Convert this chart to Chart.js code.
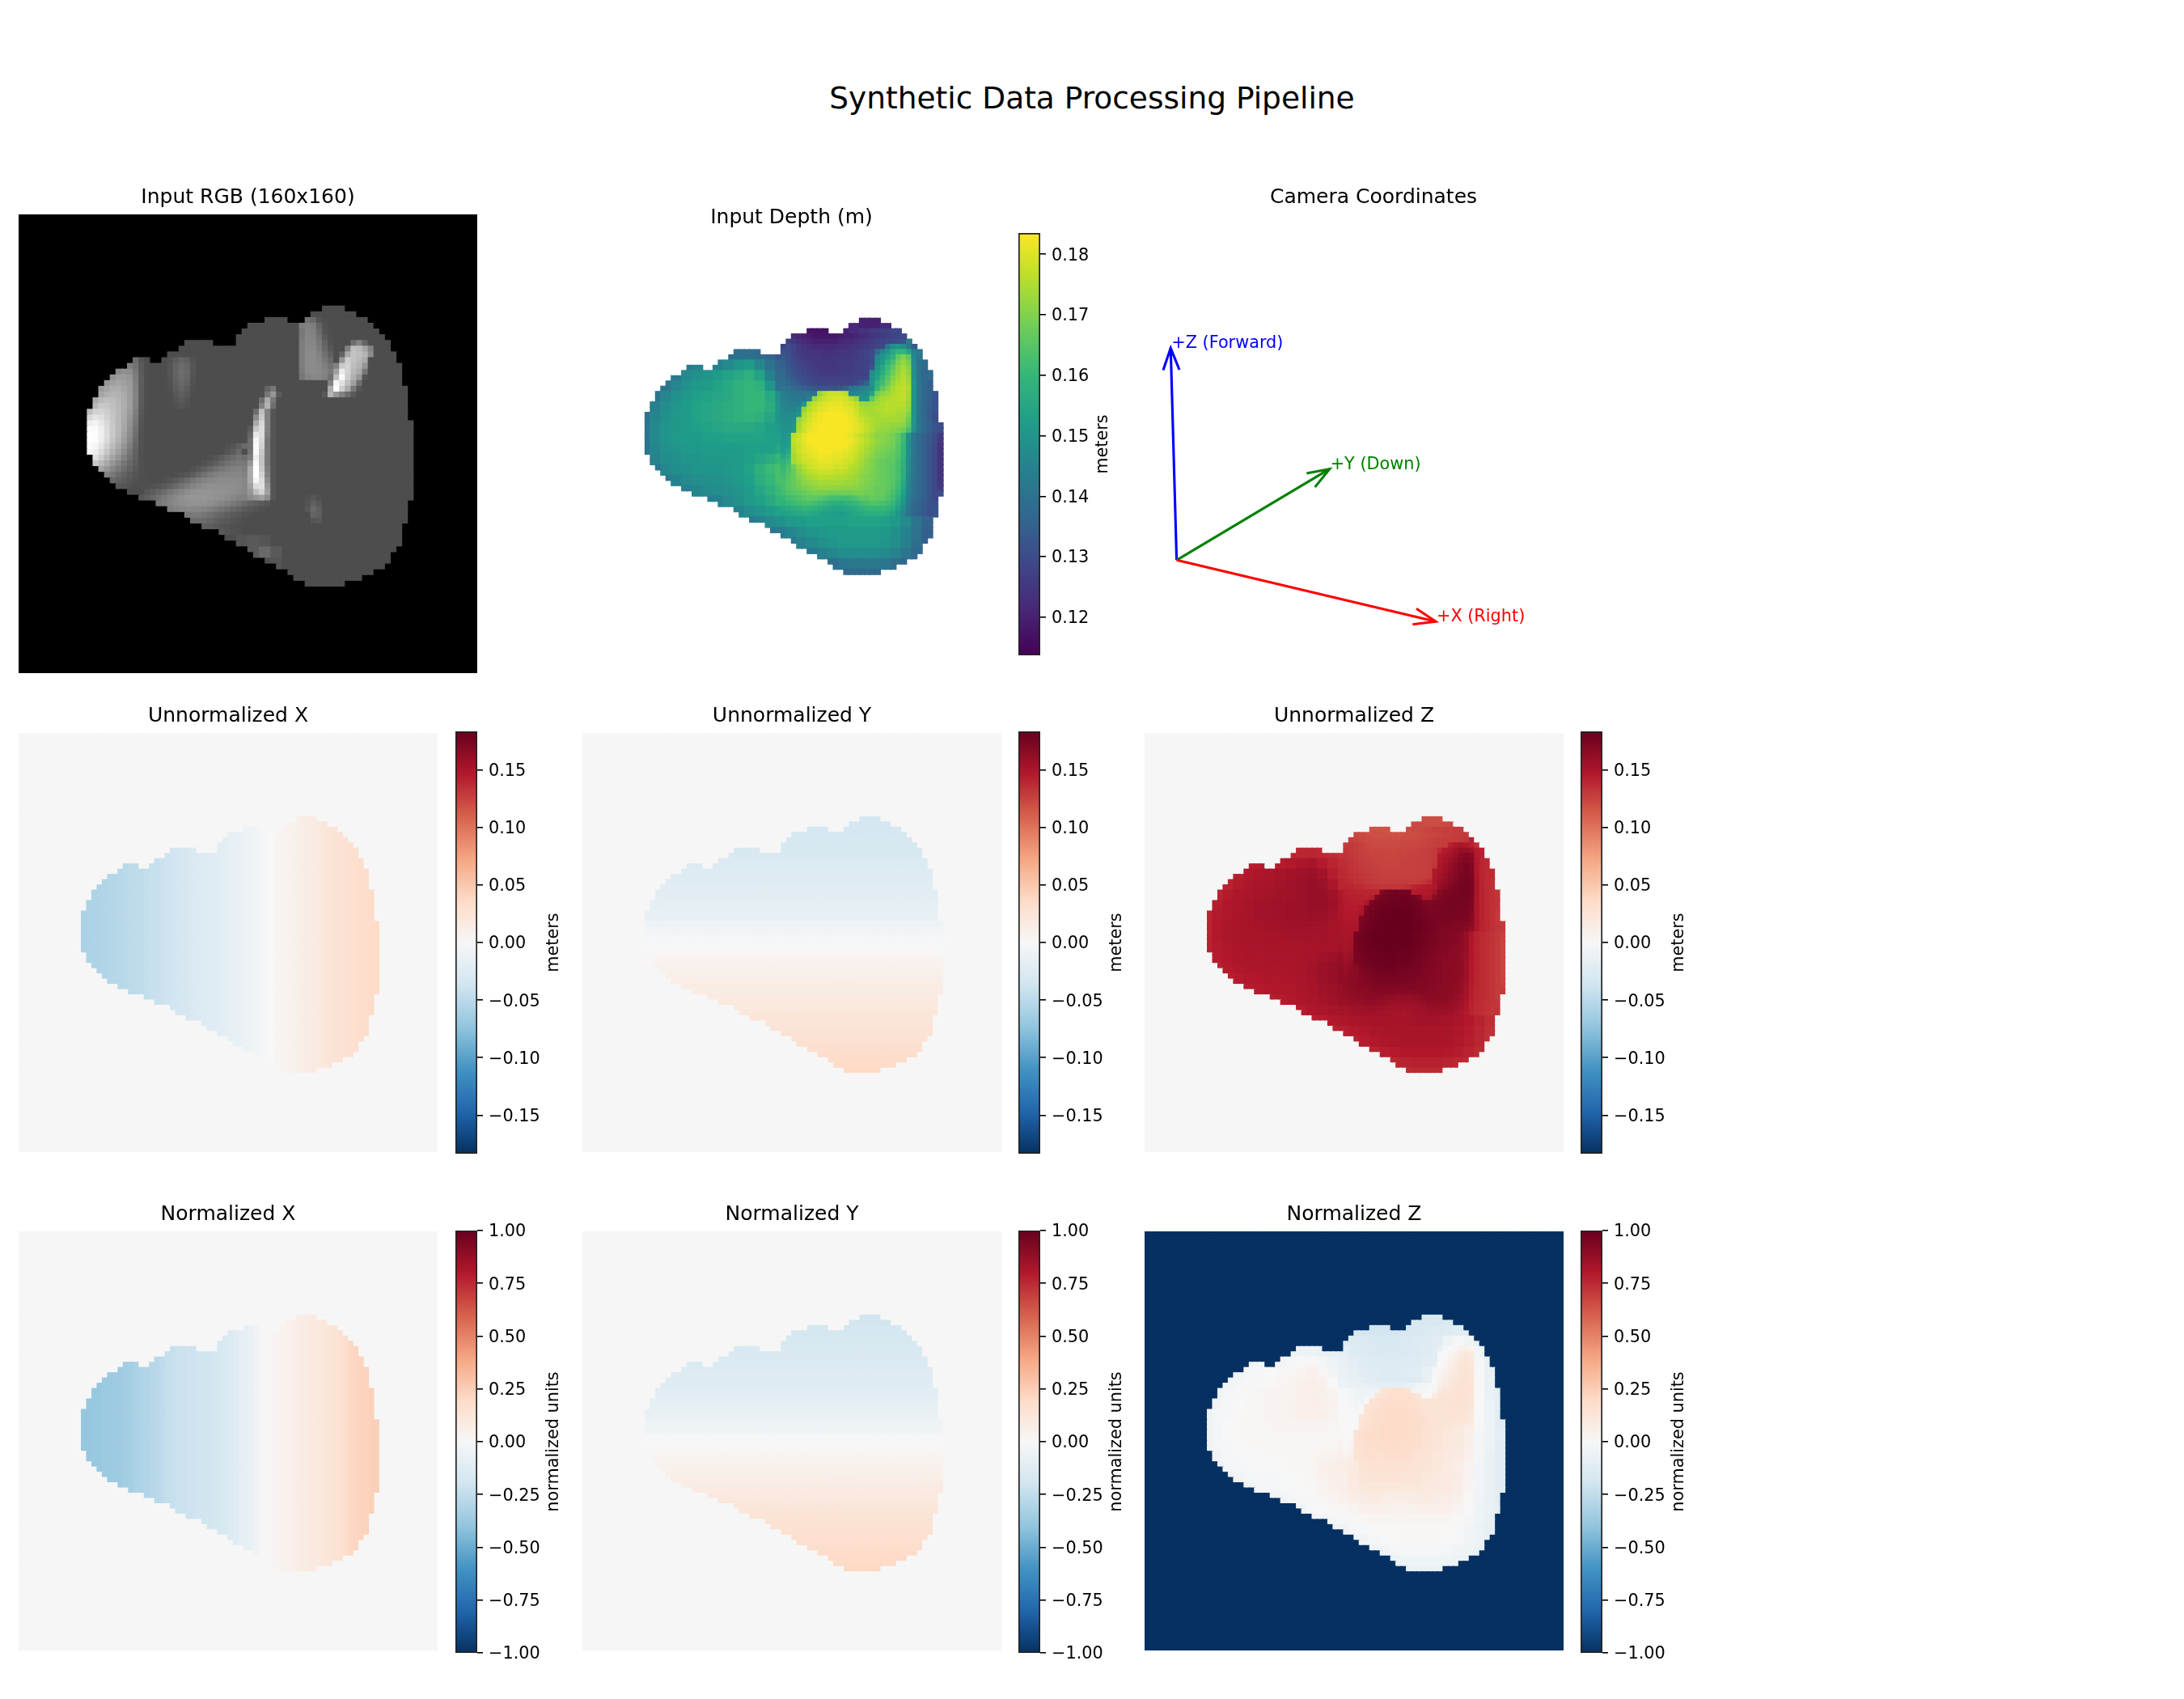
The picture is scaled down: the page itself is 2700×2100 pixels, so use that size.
<!DOCTYPE html>
<html>
<head>
<meta charset="utf-8">
<title>Synthetic Data Processing Pipeline</title>
<script src="https://cdn.jsdelivr.net/npm/chart.js@4/dist/chart.umd.min.js"></script>
<style>
  body { margin: 0; background: #fff; }
  #page { position: relative; width: 2700px; height: 2100px; overflow: hidden; }
  #page canvas { position: absolute; }
  #mainTitle { position: absolute; left: 0; width: 2700px; top: 101px; text-align: center;
    font: 37.5px/40px "DejaVu Sans"; color: #000; }
</style>
</head>
<body>
<div id="page"><div id="mainTitle">Synthetic Data Processing Pipeline</div></div>
<script>
// Object outline on the 80x80 image grid: row -> [firstCol, lastCol, ...]
const maskRowStart = 16;
const maskSpans = [
  [53,56],[51,58],[43,46,50,60],[40,61],[39,62],[38,63],[29,33,38,64],[28,64],[26,65],[20,22,25,65],
  [19,66],[17,66],[16,66],[15,66],[14,67],[14,67],[13,67],[13,67],[12,67],[12,67],
  [12,68],[12,68],[12,68],[12,68],[12,68],[12,68],[13,68],[13,68],[14,68],[15,68],
  [16,68],[17,68],[19,68],[21,68],[24,67],[26,67],[29,67],[30,67],[32,66],[35,66],
  [36,66],[38,66],[40,65],[41,64],[43,64],[45,63],[47,61],[48,59],[50,56]
];

// Depth in mm, 2x2 image cells each. Rows 8..32, columns 5..34 of the 40x40 grid
const depthRows = [
  [0,0,0,0,0, 0,0,0,0,0, 0,0,0,0,0, 0,0,0,0,0, 122,120,120,122,124, 0,0,0,0,0],
  [0,0,0,0,0, 0,0,0,0,0, 0,0,0,0,122, 118,117,117,118,120, 122,124,126,127,129, 130,0,0,0,0],
  [0,0,0,0,0, 0,0,0,0,0, 0,0,0,128,125, 124,122,121,122,123, 125,128,130,142,148, 142,134,0,0,0],
  [0,0,0,0,0, 0,0,0,139,139, 139,138,136,132,128, 126,124,123,123,124, 125,127,150,156,162, 158,142,0,0,0],
  [0,0,0,0,143, 145,143,145,147,150, 152,146,140,136,132, 129,127,126,126,127, 128,130,160,168,174, 172,148,138,0,0],
  [0,0,0,143,147, 149,150,152,154,156, 158,154,144,138,134, 131,129,128,128,129, 130,136,164,171,176, 175,150,138,0,0],
  [0,0,141,146,149, 151,152,154,156,158, 160,158,150,140,138, 137,137,137,138,142, 146,150,168,173,176, 176,150,138,134,0],
  [0,141,146,149,151, 153,154,155,156,158, 160,160,156,148,146, 148,176,180,181,180, 177,172,174,175,176, 172,150,138,132,0],
  [0,144,148,150,152, 154,155,156,157,158, 160,160,157,150,147, 175,179,182,183,182, 180,177,176,176,174, 170,150,140,132,0],
  [140,146,149,151,152, 154,155,156,157,158, 159,158,155,150,150, 176,180,182,183,182, 181,178,176,174,172, 166,150,140,130,0],
  [141,147,150,151,152, 153,154,155,156,156, 156,155,153,152,152, 178,181,183,183,183, 181,178,175,172,170, 162,148,140,130,0],
  [141,147,150,151,152, 152,153,153,154,154, 154,154,153,153,156, 178,181,183,183,183, 181,177,173,170,167, 160,147,140,132,124],
  [141,146,149,150,151, 151,152,152,152,152, 153,153,153,155,158, 178,180,182,183,182, 180,176,172,169,167, 160,147,139,131,122],
  [0,145,148,149,150, 150,151,151,151,152, 153,155,157,160,164, 176,178,180,180,179, 177,174,170,167,165, 158,146,138,130,122],
  [0,141,146,148,149, 150,150,150,151,152, 154,158,161,163,166, 174,176,176,177,176, 174,172,169,166,163, 156,145,138,130,122],
  [0,0,142,145,147, 148,149,149,150,151, 153,157,160,163,167, 172,174,174,174,173, 172,170,168,166,164, 156,145,138,131,123],
  [0,0,0,0,144, 146,147,148,149,150, 152,155,158,161,165, 169,170,170,169,169, 169,168,167,165,162, 154,144,137,130,123],
  [0,0,0,0,0, 0,143,145,147,149, 151,153,156,159,162, 164,165,163,162,163, 164,165,164,162,160, 152,143,137,131,0],
  [0,0,0,0,0, 0,0,0,142,145, 148,150,152,154,156, 158,158,158,157,157, 158,159,159,158,156, 150,142,137,132,0],
  [0,0,0,0,0, 0,0,0,0,0, 142,144,147,149,151, 152,153,153,153,153, 154,154,154,153,151, 147,141,136,0,0],
  [0,0,0,0,0, 0,0,0,0,0, 0,0,141,143,146, 148,150,151,152,152, 152,152,152,151,149, 145,140,135,0,0],
  [0,0,0,0,0, 0,0,0,0,0, 0,0,0,0,142, 145,147,149,150,151, 151,151,151,150,148, 144,139,135,0,0],
  [0,0,0,0,0, 0,0,0,0,0, 0,0,0,0,0, 0,141,144,146,148, 148,148,148,147,145, 141,137,0,0,0],
  [0,0,0,0,0, 0,0,0,0,0, 0,0,0,0,0, 0,0,0,139,141, 142,142,142,141,139, 137,0,0,0,0],
  [0,0,0,0,0, 0,0,0,0,0, 0,0,0,0,0, 0,0,0,0,137, 138,138,138,137,0, 0,0,0,0,0]
];

// Depth in mm at full 80x80 detail around the dome and the right lobe: [row, firstCol, values...]
const depthFine = [
  [19,39,124,122,121,120,119,118,118,118,118,118,119,120,120,121,122,123,124,125,126,127,128,129],
  [20,39,127,125,123,122,121,120,120,120,120,120,121,122,122,123,124,125,126,127,128,129,129,130,131],
  [21,39,130,128,126,124,123,122,122,122,122,122,123,123,124,124,125,126,127,128,129,142,148,150,148,142],
  [22,38,132,130,128,126,125,124,124,124,123,123,124,124,125,125,126,127,128,129,138,146,150,156,160,160,155,145],
  [23,38,134,131,129,127,126,125,125,125,124,124,125,125,125,126,126,127,128,130,146,150,154,158,166,170,166,146],
  [24,38,135,132,130,128,127,126,125,125,125,125,125,126,126,126,127,127,128,130,148,152,158,163,169,172,169,147,140],
  [25,38,136,133,131,129,128,127,126,125,125,125,125,126,126,126,127,127,128,132,150,155,161,166,171,174,171,148,140],
  [26,38,137,134,132,130,129,128,127,126,126,126,126,126,126,127,127,127,128,148,152,157,163,168,172,175,172,148,140,137],
  [27,38,138,135,133,131,130,129,128,127,127,127,127,127,127,127,128,128,129,149,154,160,165,170,173,176,173,149,141,137],
  [28,38,139,137,135,133,131,130,129,128,128,128,128,128,128,128,129,132,136,150,158,162,167,172,175,176,174,150,141,137,135],
  [29,38,141,140,138,137,135,134,133,132,132,132,132,133,135,140,142,144,146,148,160,166,170,174,176,177,175,150,141,137,135],
  [30,38,143,142,141,140,140,140,140,172,176,178,178,178,176,145,146,147,148,155,168,171,173,175,176,177,174,150,141,137,135],
  [31,38,144,143,142,142,141,145,172,176,178,179,180,180,179,176,172,150,150,166,172,174,175,176,176,177,174,150,141,137,135],
  [32,38,145,144,144,143,150,174,177,179,180,181,181,181,180,179,177,173,172,173,174,175,176,176,176,176,173,150,141,137,135],
  [33,38,146,145,145,148,172,176,178,180,181,182,182,182,181,180,178,175,174,174,175,175,176,176,175,175,172,150,141,137,134],
  [34,38,147,147,147,150,175,178,180,182,183,183,183,183,182,181,179,176,175,174,174,175,175,175,174,174,170,150,141,137,134],
  [35,38,148,148,148,172,176,179,181,182,183,183,183,183,183,182,180,178,176,175,174,174,174,174,174,173,168,150,141,137,134],
  [36,38,149,149,150,174,178,180,182,183,183,183,183,183,183,182,181,179,177,175,174,173,173,172,172,171,166,150,141,138,135,132],
  [37,38,150,150,151,175,178,181,182,183,183,183,183,183,183,182,181,179,177,175,173,172,172,171,170,168,163,149,141,138,135,132],
  [38,38,150,151,176,178,181,183,183,183,183,183,183,183,182,181,179,177,175,173,171,171,170,169,166,161,149,141,138,135,133,130,126],
  [39,38,151,152,177,179,181,183,183,183,183,183,183,183,183,182,180,178,176,174,172,171,170,169,166,161,149,141,138,135,133,130,125],
  [40,38,152,153,176,178,180,182,183,183,183,183,183,183,183,181,179,177,175,173,171,170,169,168,165,160,148,141,138,135,132,129,124],
  [41,38,153,155,175,178,180,181,182,183,183,183,182,182,181,180,178,176,174,172,170,169,168,167,165,160,148,141,138,135,132,129,124],
  [42,38,155,158,174,177,179,180,181,182,182,182,181,181,180,179,177,175,173,171,169,168,167,166,164,159,148,141,138,135,132,129,124],
  [43,38,158,161,174,176,178,179,180,181,181,181,180,180,179,178,176,174,172,170,168,167,166,166,163,158,147,141,138,135,132,129,124],
  [44,38,160,163,168,173,176,178,179,180,180,180,179,179,178,176,175,173,171,170,168,167,166,165,163,158,147,141,138,135,132,129,124],
  [45,38,161,164,167,171,174,176,177,178,178,178,177,177,176,175,174,172,171,169,168,167,166,165,163,157,147,141,138,135,132,129,124],
  [46,38,162,165,167,170,172,174,175,176,176,176,175,175,175,174,173,171,170,169,168,167,166,165,163,157,146,140,138,135,132,129,124],
  [47,38,163,165,167,169,171,172,173,174,174,174,174,174,173,173,172,171,170,169,168,167,166,165,162,156,146,140,138,135,132,129,125],
  [48,38,163,165,166,168,169,170,171,172,172,172,172,171,171,171,171,170,169,168,167,167,166,164,161,155,145,140,137,135,132,129,126],
  [49,38,162,164,165,166,167,168,169,169,169,168,168,168,168,168,169,169,168,168,167,167,165,163,160,153,144,139,137,135,132,129],
  [50,38,160,162,163,164,165,166,166,165,164,163,162,162,162,163,164,166,166,167,166,166,164,162,158,152,143,139,137,135,132,129],
  [51,38,158,160,161,162,163,163,162,161,160,158,157,157,158,159,160,162,163,164,164,163,162,160,156,150,142,138,136,134,132],
  [52,38,155,156,157,158,159,159,158,157,156,155,154,154,155,156,157,158,160,160,160,160,159,157,153,148,141,137,136,134,131],
  [53,38,153,154,155,156,156,156,155,154,153,153,152,152,153,154,155,156,157,157,157,157,156,154,150,146,140,137,135,133,131]
];

// Normalized Z in hundredths, same grid as depthRows
const normZRows = [
  [0,0,0,0,0, 0,0,0,0,0, 0,0,0,0,0, 0,0,0,0,0, -16,-17,-17,-16,-15, 0,0,0,0,0],
  [0,0,0,0,0, 0,0,0,0,0, 0,0,0,0,-16, -18,-19,-19,-18,-17, -16,-15,-14,-13,-12, -11,0,0,0,0],
  [0,0,0,0,0, 0,0,0,0,0, 0,0,0,-13,-14, -15,-16,-16,-16,-15, -14,-13,-11,-5,-1, -5,-9,0,0,0],
  [0,0,0,0,0, 0,0,0,-6,-6, -6,-7,-8,-10,-13, -14,-15,-15,-15,-15, -14,-13,0,3,7, 5,-5,0,0,0],
  [0,0,0,0,-4, -3,-4,-3,-2,0, 1,-2,-6,-8,-10, -12,-13,-14,-14,-13, -13,-11,6,10,14, 13,-1,-7,0,0],
  [0,0,0,-4,-2, -1,0,1,2,3, 5,2,-3,-7,-9, -11,-12,-13,-13,-12, -11,-8,8,12,15, 14,0,-7,0,0],
  [0,0,-5,-2,-1, 1,1,2,3,5, 6,5,0,-6,-7, -7,-7,-7,-7,-5, -2,0,10,13,15, 15,0,-7,-9,0],
  [0,-5,-2,-1,1, 2,2,3,3,5, 6,6,3,-1,-2, -1,15,17,18,17, 15,13,14,14,15, 13,0,-7,-10,0],
  [0,-3,-1,0,1, 2,3,3,4,5, 6,6,4,0,-2, 14,17,18,19,18, 17,15,15,15,14, 11,0,-6,-10,0],
  [-6,-2,-1,1,1, 2,3,3,4,5, 5,5,3,0,0, 15,17,18,19,18, 18,16,15,14,13, 9,0,-6,-11,0],
  [-5,-2,0,1,1, 2,2,3,3,3, 3,3,2,1,1, 16,18,19,19,19, 18,16,14,13,11, 7,-1,-6,-11,0],
  [-5,-2,0,1,1, 1,2,2,2,2, 2,2,2,2,3, 16,18,19,19,19, 18,15,13,11,10, 6,-2,-6,-10,-15],
  [-5,-2,-1,0,1, 1,1,1,1,1, 2,2,2,3,5, 16,17,18,19,18, 17,15,13,11,10, 6,-2,-6,-11,-16],
  [0,-3,-1,-1,0, 0,1,1,1,1, 2,3,4,6,8, 15,16,17,17,17, 15,14,11,10,9, 5,-2,-7,-11,-16],
  [0,-5,-2,-1,-1, 0,0,0,1,1, 2,5,6,7,9, 14,15,15,15,15, 14,13,11,9,7, 3,-3,-7,-11,-16],
  [0,0,-5,-3,-2, -1,-1,-1,0,1, 2,4,6,7,10, 13,14,14,14,13, 13,11,10,9,8, 3,-3,-7,-11,-15],
  [0,0,0,0,-3, -2,-2,-1,-1,0, 1,3,5,6,9, 11,11,11,11,11, 11,10,10,9,7, 2,-3,-7,-11,-15],
  [0,0,0,0,0, 0,-4,-3,-2,-1, 1,2,3,5,7, 8,9,7,7,7, 8,9,8,7,6, 1,-4,-7,-11,0],
  [0,0,0,0,0, 0,0,0,-5,-3, -1,0,1,2,3, 5,5,5,4,4, 5,5,5,5,3, 0,-5,-7,-10,0],
  [0,0,0,0,0, 0,0,0,0,0, -5,-3,-2,-1,1, 1,2,2,2,2, 2,2,2,2,1, -2,-5,-8,0,0],
  [0,0,0,0,0, 0,0,0,0,0, 0,0,-5,-4,-2, -1,0,1,1,1, 1,1,1,1,-1, -3,-6,-9,0,0],
  [0,0,0,0,0, 0,0,0,0,0, 0,0,0,0,-5, -3,-2,-1,0,1, 1,1,1,0,-1, -3,-6,-8,0,0],
  [0,0,0,0,0, 0,0,0,0,0, 0,0,0,0,0, 0,-5,-3,-2,-1, -1,-1,-1,-2,-3, -5,-7,0,0,0],
  [0,0,0,0,0, 0,0,0,0,0, 0,0,0,0,0, 0,0,0,-6,-5, -5,-5,-5,-5,-6, -7,0,0,0,0],
  [0,0,0,0,0, 0,0,0,0,0, 0,0,0,0,0, 0,0,0,0,-7, -7,-7,-7,-7,0, 0,0,0,0,0]
];

// Normalized Z at 80x80 detail on the dome edge and the right lobe
const normZFine = [
  [22,55,-12,-7,-2,0,3,6,6,3,-3],[23,55,-11,-2,0,2,5,9,11,9,-2],[24,55,-11,-1,1,5,7,11,13,11,-2],
  [25,55,-10,0,3,6,9,12,14,12,-1],[26,55,-1,1,4,7,10,13,14,13,-1],[27,55,-1,2,6,9,11,13,15,13,-1],
  [28,40,-8,-9,-11,-11,-12,-13,-13,-13,-13,-13,-13,-13,-12,-10,-8,0,5,7,10,13,14,15,14],
  [29,40,-7,-7,-8,-9,-10,-10,-10,-10,-10,-10,-8,-6,-5,-3,-2,-1,6,9,11,14,15,15,14],
  [30,40,-5,-6,-6,-6,-6,13,15,16,16,16,15,-3,-2,-2,-1,3,10,12,13,14,15,15,14],
  [31,40,-5,-5,-5,-3,13,15,16,17,17,17,17,15,13,0,0,9,13,14,14,15,15,15,14],
  [32,40,-3,-4,0,14,15,17,17,18,18,18,17,17,15,13,13,13,14,14,15,15,15,15,13],
  [33,40,-3,-1,13,15,16,17,18,18,18,18,18,17,16,14,14,14,14,14,15,15,14,14,13],
  [34,40,-2,0,14,16,17,18,19,19,19,19,18,18,17,15,14,14,14,14,14,14,14,14,11],
  [35,40,-1,13,15,17,18,18,19,19,19,19,19,18,17,16,15,14,14,14,14,14,14,13,10],
  [36,40,0,14,16,17,18,19,19,19,19,19,19,18,18,17,15,14,14,13,13,13,13,12,9],
  [37,38,0,0,1,14,16,18],[38,38,0,1,15,16,18,19],[39,38,1,1,15,17,18,19],[40,38,1,2,15,16,17,18],
  [41,38,2,3,14,16,17,18],[42,38,3,5,14,15,17,17],[43,38,5,6,14,15,16,17]
];

// Per column (12..68) and per row (16..64) readings
const xColStart = 12;
const unnormXmm = [-58,-58,-57,-56,-55,-54,-53,-52,-50,-49,-48,-47,-45,-43,-42,-40,-38,-36,-34,-32,-30,-28,-26,-25,-23,-22,-21,-19,-17,-15,-13,-11,-9,-7,-4,-2,0,2,5,7,9,11,13,14,16,19,22,24,26,27,29,30,31,33,34,35,36];
const normXpct = [-39,-39,-38,-38,-37,-37,-36,-36,-35,-34,-32,-31,-30,-29,-28,-26,-24,-23,-22,-22,-21,-21,-20,-20,-19,-18,-17,-16,-14,-12,-10,-9,-7,-4,-1,1,2,3,4,5,6,7,8,9,10,11,12,13,14,16,18,21,22,23,23,24,24];
const unnormYmm = [-33,-33,-32,-32,-31,-30,-30,-29,-27,-26,-25,-24,-22,-21,-20,-19,-18,-17,-15,-14,-10,-7,-5,-2,0,1,4,5,8,9,10,13,14,15,17,18,19,22,23,24,26,27,28,30,32,33,35,36,37];
const normYpct = [-19,-19,-18,-18,-17,-17,-16,-16,-15,-15,-14,-13,-13,-12,-11,-11,-10,-9,-8,-7,-5,-4,-3,-1,0,1,2,3,4,5,6,7,8,9,10,11,12,13,14,15,15,16,17,17,18,19,20,20,21];

// RGB panel: flat gray with brighter patches
const rgbBase = 77;
// [row40, col40, gray, gray, ...]
const rgbPatches = [
  [23,7,95,90,85,85],[28,19,85,90,85],[29,20,90,105,90],[30,22,85]
];
// [row80, col80, gray, gray, ...] for the lobe, the band and the sharp streaks
const rgbFine = [
  [25,20,110,85,77],[26,19,125,115,90,78],[27,17,135,145,140,120,90,78],[28,16,145,155,155,150,125,92,78],
  [29,15,150,160,165,160,155,128,92,78],[30,14,155,165,172,172,165,155,130,92,78],[31,14,165,175,180,178,170,158,132,92,78],
  [32,13,170,185,190,188,182,172,158,132,92,78],[33,13,185,200,198,192,184,174,158,130,90,78],
  [34,12,190,210,212,205,195,185,172,155,126,88,77],[35,12,215,228,222,210,198,185,170,150,122,86,77],
  [36,12,238,242,232,216,200,185,168,146,118,84,77],[37,12,250,250,238,220,202,185,166,142,114,84,77],
  [38,12,255,254,240,220,200,182,162,138,110,82,77],[39,12,255,252,238,217,196,178,158,133,106,82,77],
  [40,12,250,246,230,210,188,170,150,126,102,82,77],[41,12,245,238,220,198,178,160,140,118,98,80,77],
  [42,13,225,205,185,165,148,130,112,95,80,77],[43,13,200,185,168,150,134,118,104,92,80,77],
  [44,14,165,150,135,122,110,98,88,80,77],[45,15,130,120,108,98,90,84,80,78,77],[46,16,105,98,92,86,82,79,78,77],
  [47,17,88,85,82,80,80,80,82],
  [25,26,82,92,100,95,82],[26,26,85,98,108,102,85],[27,26,85,100,110,105,85],[28,26,84,98,108,102,84],
  [29,26,82,95,104,98,82],[30,26,80,92,100,92,80],[31,26,78,88,95,88,78],[32,26,77,84,90,84,77],[33,26,77,80,85,80,77],
  [49,50,80,86,80],[50,50,84,96,88],[51,50,88,105,95],[52,51,100,95],[53,51,85,88],
  [40,36,80,85,95,105],[41,36,85,92,105],[42,33,80,85,92,100,108,115],[43,31,78,82,88,95,105,112,118,122],
  [44,29,78,82,88,95,104,113,120,125,128,130],[45,27,78,82,87,94,104,114,122,128,132,134,135,135],
  [46,25,80,84,90,98,108,118,126,132,136,138,140,140,140,138],
  [47,24,84,90,97,106,115,124,132,138,142,144,144,144,144,142,140],
  [48,22,86,92,100,108,118,126,134,140,145,147,148,148,147,146,144,142,138],
  [49,21,88,94,102,112,122,130,138,144,148,150,150,150,148,146,144,140,136,130],
  [50,24,118,126,132,138,142,145,146,146,145,142,138,134,128,122,114,108,100,95,90,85],
  [51,26,125,130,134,136,136,135,132,128,122,116,110,104,98,92,88,84,80],
  [52,29,120,122,122,118,112,106,100,95,90,86,82,80],[53,30,108,108,106,102,96,92,88,84,80,78],
  [54,32,96,94,90,86,82,80,78],[55,35,88,85,82,80],
  [18,49,110,115,105,85,78,77],[19,49,125,130,125,100,82,78],[20,49,120,132,130,108,85,78],[21,49,122,135,132,115,90,80],
  [22,49,125,135,135,120,98,82],[23,49,125,138,138,125,105,88],[24,49,125,140,140,130,112,95],[25,49,125,140,140,135,120,105],
  [26,49,125,140,140,138,128,115],[27,49,122,138,140,138,132,120],[28,49,118,132,135,135,130,120],
  [30,43,100,120],[31,43,120,150,90],[32,42,110,170,120],[33,42,130,180,110],[34,41,110,190,130,85],
  [35,41,140,200,130,85],[36,41,170,215,130,85],[37,40,90,200,220,130,85],[38,40,100,230,220,125,85],
  [39,40,110,245,215,120,85],[40,40,110,250,210,120,85],[41,40,115,250,200,120,85],[42,39,110,125,240,195,120,85],
  [43,39,120,150,250,195,120,85],[44,39,125,170,255,200,125,85],[45,39,130,170,255,210,130,85],
  [46,39,135,170,245,220,140,85],[47,39,135,160,220,225,150,85],[48,39,135,150,190,210,160,85],[49,39,130,140,150,160,140,85],
  [22,58,110,130,100],[23,57,130,190,185,165,130],[24,56,100,170,195,190,180,140],[25,56,150,205,195,185,170],
  [26,55,130,200,210,190,180,150],[27,55,160,235,210,185,170,120],[28,54,110,190,250,205,175,150,85],
  [29,54,130,245,225,190,160,110],[30,54,170,255,205,170,120,85],[31,53,90,180,150,130,110,90]
];

// Colorbar ticks
const depthTicks = [0.12, 0.13, 0.14, 0.15, 0.16, 0.17, 0.18];
const meterTicks = [-0.15, -0.10, -0.05, 0, 0.05, 0.10, 0.15];
const normTicks = [-1, -0.75, -0.5, -0.25, 0, 0.25, 0.5, 0.75, 1];

// Camera axes, in axes fractions
const axisOrigin = [0.070, 0.245];
const axisNames = ['+X (Right)', '+Y (Down)', '+Z (Forward)'];
const axisColors = ['red', 'green', 'blue'];
const axisTipX = [0.636, 0.404, 0.057];
const axisTipY = [0.111, 0.444, 0.708];

const viridisStops = ['#440154','#482878','#3e4989','#31688e','#26828e','#1f9e89','#35b779','#6ece58','#b5de2b','#fde725'];
const rdbuStops = ['#053061','#2166ac','#4393c3','#92c5de','#d1e5f0','#f7f7f7','#fddbc7','#f4a582','#d6604d','#b2182b','#67001f'];

Chart.defaults.font.family = '"DejaVu Sans"';
Chart.defaults.color = '#000';
Chart.defaults.animation = false;

const page = document.getElementById('page');

function hexToRgb(hex) {
  return [1, 3, 5].map(i => parseInt(hex.substr(i, 2), 16));
}

function mapColor(stops, t) {
  t = Math.min(1, Math.max(0, t)) * (stops.length - 1);
  const i = Math.min(stops.length - 2, Math.floor(t));
  const a = hexToRgb(stops[i]);
  const b = hexToRgb(stops[i + 1]);
  const c = a.map((v, k) => Math.round(v + (b[k] - v) * (t - i)));
  return `rgb(${c[0]},${c[1]},${c[2]})`;
}

function addCanvas(left, top, width, height) {
  const canvas = document.createElement('canvas');
  canvas.width = width;
  canvas.height = height;
  canvas.style.left = left + 'px';
  canvas.style.top = top + 'px';
  canvas.style.width = width + 'px';
  canvas.style.height = height + 'px';
  page.appendChild(canvas);
  return canvas;
}

function inMask(row, col) {
  const spans = maskSpans[row - maskRowStart];
  if (!spans) return false;
  for (let k = 0; k < spans.length; k += 2) {
    if (col >= spans[k] && col <= spans[k + 1]) return true;
  }
  return false;
}

function coarse(rows, row, col) {
  return rows[(row >> 1) - 8][((col - 1) >> 1) - 5];
}

// Lookups for the [row, col, values...] lists
function indexRuns(list) {
  const table = {};
  list.forEach(p => p.slice(2).forEach((v, k) => { table[p[0] + ':' + (p[1] + k)] = v; }));
  return table;
}
const rgbCoarse = indexRuns(rgbPatches);
const rgbDetail = indexRuns(rgbFine);
const depthDetail = indexRuns(depthFine);
const normZDetail = indexRuns(normZFine);

function rgbValue(row, col) {
  const fine = rgbDetail[row + ':' + col];
  if (fine !== undefined) return fine;
  const patch = rgbCoarse[(row >> 1) + ':' + (col >> 1)];
  return patch !== undefined ? patch : rgbBase;
}

function depthValue(row, col) {
  const fine = depthDetail[row + ':' + col];
  return fine !== undefined ? fine : coarse(depthRows, row, col);
}

function normZValue(row, col) {
  const fine = normZDetail[row + ':' + col];
  return fine !== undefined ? fine : coarse(normZRows, row, col);
}

const titleOptions = text => ({
  display: true,
  text: text,
  font: { size: 25, weight: 'normal', lineHeight: 1.2 },
  color: '#000',
  padding: { top: 0, bottom: 6 },
});

const hiddenScales = {
  x: { type: 'linear', display: false, min: 0, max: 80 },
  y: { type: 'linear', display: false, min: 0, max: 80, reverse: true },
};

function drawImagePanel(p) {
  const points = [];
  const colors = [];
  for (let row = 0; row < 80; row++) {
    for (let col = 0; col < 80; col++) {
      const inside = inMask(row, col);
      if (!inside && p.background === null) continue;
      points.push({ x: col + 0.5, y: row + 0.5 });
      colors.push(inside ? p.color(row, col) : p.background);
    }
  }
  const cell = p.size / 80;
  new Chart(addCanvas(p.left, p.top - 36, p.size, p.size + 36), {
    type: 'scatter',
    data: {
      datasets: [{
        data: points,
        pointStyle: 'rect',
        pointRadius: (cell + 1.4) / Math.SQRT2,
        pointBorderWidth: 0,
        pointBackgroundColor: colors,
      }],
    },
    options: {
      responsive: false,
      devicePixelRatio: 1,
      events: [],
      layout: { padding: 0, autoPadding: false },
      scales: hiddenScales,
      plugins: { legend: { display: false }, tooltip: { enabled: false }, title: titleOptions(p.title) },
    },
  });
}

// Rotated label next to a colorbar
const barLabelPlugin = {
  id: 'barLabel',
  afterDraw(chart, args, opts) {
    const { ctx, chartArea } = chart;
    ctx.save();
    ctx.translate(chartArea.left + opts.offset, (chartArea.top + chartArea.bottom) / 2);
    ctx.rotate(-Math.PI / 2);
    ctx.font = '20.8px "DejaVu Sans"';
    ctx.fillStyle = '#000';
    ctx.textAlign = 'center';
    ctx.textBaseline = 'middle';
    ctx.fillText(opts.text, 0, 0);
    ctx.restore();
  },
};

function drawColorbar(b) {
  const canvasWidth = 190;
  const barWidth = 27;
  // has to stay above half a tick label plus the tick padding, or the scale shrinks
  const margin = 24;
  new Chart(addCanvas(b.left, b.top - margin, canvasWidth, b.height + 2 * margin), {
    type: 'bar',
    data: {
      labels: [''],
      datasets: [{
        data: [[b.min, b.max]],
        barPercentage: 1,
        categoryPercentage: 1,
        borderWidth: 2,
        borderColor: '#222',
        borderSkipped: false,
        backgroundColor(ctx) {
          const area = ctx.chart.chartArea;
          if (!area) return 'transparent';
          const grad = ctx.chart.ctx.createLinearGradient(0, area.bottom, 0, area.top);
          for (let i = 0; i <= 50; i++) grad.addColorStop(i / 50, mapColor(b.stops, i / 50));
          return grad;
        },
      }],
    },
    options: {
      responsive: false,
      devicePixelRatio: 1,
      events: [],
      layout: { padding: { top: margin, bottom: margin, left: 0, right: 0 }, autoPadding: false },
      scales: {
        x: { display: false },
        y: {
          position: 'right',
          min: b.min,
          max: b.max,
          afterBuildTicks(scale) { scale.ticks = b.ticks.map(v => ({ value: v })); },
          afterFit(scale) { scale.width = canvasWidth - barWidth; },
          grid: { drawOnChartArea: false, drawTicks: true, tickLength: 7, color: '#000', lineWidth: 1.6 },
          border: { display: false },
          ticks: {
            autoSkip: false,
            padding: 7,
            labelOffset: 2,
            font: { size: 20.8 },
            color: '#000',
            callback: v => v.toFixed(2).replace('-', '\u2212'),
          },
        },
      },
      plugins: {
        legend: { display: false },
        tooltip: { enabled: false },
        barLabel: { text: b.label, offset: b.labelOffset },
      },
    },
    plugins: [barLabelPlugin],
  });
}

// Open arrow heads and the labels at the tips
const arrowPlugin = {
  id: 'axisArrows',
  afterDatasetsDraw(chart) {
    const { ctx, scales } = chart;
    chart.data.datasets.forEach((ds, i) => {
      const a = ds.data[0];
      const b = ds.data[1];
      const ax = scales.x.getPixelForValue(a.x);
      const ay = scales.y.getPixelForValue(a.y);
      const bx = scales.x.getPixelForValue(b.x);
      const by = scales.y.getPixelForValue(b.y);
      const len = Math.hypot(bx - ax, by - ay);
      const ux = (bx - ax) / len;
      const uy = (by - ay) / len;
      ctx.save();
      ctx.strokeStyle = ds.borderColor;
      ctx.lineWidth = 3.1;
      ctx.beginPath();
      ctx.moveTo(bx - ux * 27 - uy * 10, by - uy * 27 + ux * 10);
      ctx.lineTo(bx, by);
      ctx.lineTo(bx - ux * 27 + uy * 10, by - uy * 27 - ux * 10);
      ctx.stroke();
      ctx.fillStyle = ds.borderColor;
      ctx.font = '20.8px "DejaVu Sans"';
      ctx.textAlign = 'left';
      ctx.textBaseline = 'alphabetic';
      ctx.fillText(axisNames[i], bx + 1, by);
      ctx.restore();
    });
  },
};

function drawCameraPanel() {
  new Chart(addCanvas(1415, 265 - 36, 566, 566 + 36), {
    type: 'scatter',
    data: {
      datasets: axisNames.map((name, i) => ({
        label: name,
        data: [{ x: axisOrigin[0], y: axisOrigin[1] }, { x: axisTipX[i], y: axisTipY[i] }],
        showLine: true,
        borderColor: axisColors[i],
        borderWidth: 3.1,
        pointRadius: 0,
      })),
    },
    options: {
      responsive: false,
      devicePixelRatio: 1,
      events: [],
      layout: { autoPadding: false },
      scales: {
        x: { type: 'linear', display: false, min: 0, max: 1 },
        y: { type: 'linear', display: false, min: 0, max: 1 },
      },
      plugins: { legend: { display: false }, tooltip: { enabled: false }, title: titleOptions('Camera Coordinates') },
    },
    plugins: [arrowPlugin],
  });
}

const rdbuMeters = (v) => mapColor(rdbuStops, 0.5 + v / (2 * 0.1835));
const rdbuNorm = (v) => mapColor(rdbuStops, 0.5 + v / 2);
const viridisDepth = (v) => mapColor(viridisStops, (v - 0.1137) / (0.1835 - 0.1137));
const flat = '#f6f6f6';
const navy = rdbuNorm(-1);

const colLefts = [23, 720, 1415];
const barLefts = [563, 1259, 1954];

drawImagePanel({
  title: 'Input RGB (160x160)', left: 23, top: 265, size: 567, background: '#000',
  color: (r, c) => { const g = rgbValue(r, c); return `rgb(${g},${g},${g})`; },
});
drawImagePanel({
  title: 'Input Depth (m)', left: 720, top: 290, size: 517, background: null,
  color: (r, c) => viridisDepth(depthValue(r, c) / 1000),
});
drawColorbar({ left: barLefts[1], top: 288, height: 522, min: 0.1137, max: 0.1835, ticks: depthTicks,
  stops: viridisStops, label: 'meters', labelOffset: 105 });
drawCameraPanel();

const rowTwo = [
  ['Unnormalized X', (r, c) => rdbuMeters(unnormXmm[c - xColStart] / 1000), flat],
  ['Unnormalized Y', (r, c) => rdbuMeters(unnormYmm[r - maskRowStart] / 1000), flat],
  ['Unnormalized Z', (r, c) => rdbuMeters(depthValue(r, c) / 1000), flat],
];
const rowThree = [
  ['Normalized X', (r, c) => rdbuNorm(normXpct[c - xColStart] / 100), flat],
  ['Normalized Y', (r, c) => rdbuNorm(normYpct[r - maskRowStart] / 100), flat],
  ['Normalized Z', (r, c) => rdbuNorm(normZValue(r, c) / 100), navy],
];

rowTwo.forEach((p, i) => {
  drawImagePanel({ title: p[0], left: colLefts[i], top: 906, size: 518, background: p[2], color: p[1] });
  drawColorbar({ left: barLefts[i], top: 904, height: 522, min: -0.1835, max: 0.1835, ticks: meterTicks,
    stops: rdbuStops, label: 'meters', labelOffset: 122 });
});
rowThree.forEach((p, i) => {
  drawImagePanel({ title: p[0], left: colLefts[i], top: 1522, size: 518, background: p[2], color: p[1] });
  drawColorbar({ left: barLefts[i], top: 1521, height: 522, min: -1, max: 1, ticks: normTicks,
    stops: rdbuStops, label: 'normalized units', labelOffset: 122 });
});
</script>
</body>
</html>
